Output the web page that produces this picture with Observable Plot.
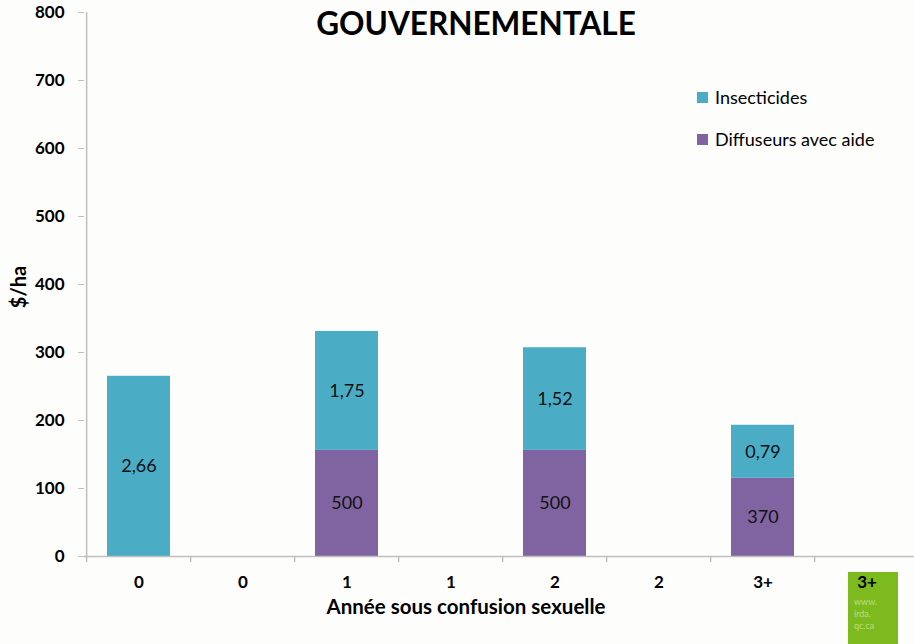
<!DOCTYPE html>
<html>
<head>
<meta charset="utf-8">
<script src="https://cdn.jsdelivr.net/npm/d3@7"></script>
<script src="https://cdn.jsdelivr.net/npm/@observablehq/plot@0.6"></script>
<style>
  html, body { margin: 0; padding: 0; background: #fdfdfb; }
  #wrap { position: relative; width: 914px; height: 644px; overflow: hidden; font-family: Lato, "Open Sans", sans-serif; }
  #title { position: absolute; left: 0; width: 952px; top: 4px; text-align: center; font-weight: 700; font-size: 31.5px; color: #000; }
  #legend { position: absolute; left: 697px; top: 86px; font-size: 18px; color: #000; }
  #legend .item { display: flex; align-items: center; height: 22px; margin-bottom: 20px; }
  #legend .sw { width: 11px; height: 11px; margin-right: 7px; }
  #xtitle { position: absolute; left: 266px; width: 400px; top: 594px; text-align: center; font-weight: 700; font-size: 20.5px; color: #000; }
  #ytitle { position: absolute; left: -32px; width: 100px; top: 275px; text-align: center; font-weight: 700; font-size: 20px; color: #000; transform: rotate(-90deg); }
  #logo { position: absolute; left: 848px; top: 572px; width: 50px; height: 80px; background: #7dba1e; }
  #logo span { position: absolute; left: 6px; top: 24px; font-size: 9px; color: #b9dd88; line-height: 12px; }
  #chart { position: absolute; left: 0; top: 0; }
</style>
</head>
<body>
<div id="wrap">
  <div id="logo"><span>www.<br>irda.<br>qc.ca</span></div>
  <div id="chart"></div>
  <div id="title">GOUVERNEMENTALE</div>
  <div id="legend"></div>
  <div id="xtitle">Année sous confusion sexuelle</div>
  <div id="ytitle">$/ha</div>
</div>
<script>
const slots = ["0a", "0b", "1a", "1b", "2a", "2b", "3+a", "3+b"];
const tickLabels = ["0", "0", "1", "1", "2", "2", "3+", "3+"];
const seriesNames = ["Diffuseurs avec aide", "Insecticides"];
const seriesColors = ["#8064a2", "#4bacc6"];
const diffuseurs = [0, 0, 156, 0, 156, 0, 115, 0];
const insecticides = [265, 0, 175, 0, 151, 0, 78, 0];
const diffLabels = ["", "", "500", "", "500", "", "370", ""];
const insectLabels = ["2,66", "", "1,75", "", "1,52", "", "0,79", ""];
const yTicks = [0, 100, 200, 300, 400, 500, 600, 700, 800];

const rows = [];
slots.forEach((s, i) => rows.push({slot: s, series: seriesNames[0], value: diffuseurs[i], label: diffLabels[i]}));
slots.forEach((s, i) => rows.push({slot: s, series: seriesNames[1], value: insecticides[i], label: insectLabels[i]}));

const W = 914, H = 644, mL = 84, mT = 12, mB = 88;
const xRange = [84, 922];
const bw = (xRange[1] - xRange[0]) / slots.length;
const labelMap = new Map(slots.map((s, i) => [s, tickLabels[i]]));

const chart = Plot.plot({
  width: W,
  height: H,
  marginLeft: mL,
  marginRight: 0,
  marginTop: mT,
  marginBottom: mB,
  style: {background: "transparent", fontFamily: "Lato, 'Open Sans', sans-serif", color: "#000"},
  x: {domain: slots, range: xRange, paddingInner: 0.39, paddingOuter: 0.195},
  y: {domain: [0, 800]},
  color: {domain: seriesNames, range: seriesColors},
  marks: [
    Plot.barY(rows, Plot.stackY({x: "slot", y: "value", fill: "series", z: "series", order: seriesNames})),
    Plot.text(rows, Plot.stackY({x: "slot", y: "value", z: "series", order: seriesNames, text: "label", fontSize: 18, fill: "#111"})),
    Plot.ruleY([0], {stroke: "#bfbfbf", strokeWidth: 1.5}),
    Plot.ruleX(slots, {x: d => d, y1: 0, y2: -9, dx: -bw / 2, stroke: "#bfbfbf", strokeWidth: 1.5}),
    Plot.axisY({ticks: yTicks, tickSize: 6, tickPadding: 14, stroke: "#bfbfbf", fontSize: 17, fontWeight: "bold", label: null}),
    Plot.ruleX([0], {x: () => slots[0], dx: -bw / 2, y1: 0, y2: 800, stroke: "#bfbfbf", strokeWidth: 1.5}),
    Plot.axisX({tickSize: 0, tickPadding: 19, tickFormat: d => labelMap.get(d), fontSize: 17, fontWeight: "bold", label: null})
  ]
});
document.getElementById("chart").appendChild(chart);

const legend = document.getElementById("legend");
[1, 0].forEach(i => {
  const item = document.createElement("div");
  item.className = "item";
  const sw = document.createElement("div");
  sw.className = "sw";
  sw.style.background = seriesColors[i];
  const t = document.createElement("span");
  t.textContent = seriesNames[i];
  item.appendChild(sw);
  item.appendChild(t);
  legend.appendChild(item);
});
</script>
</body>
</html>
